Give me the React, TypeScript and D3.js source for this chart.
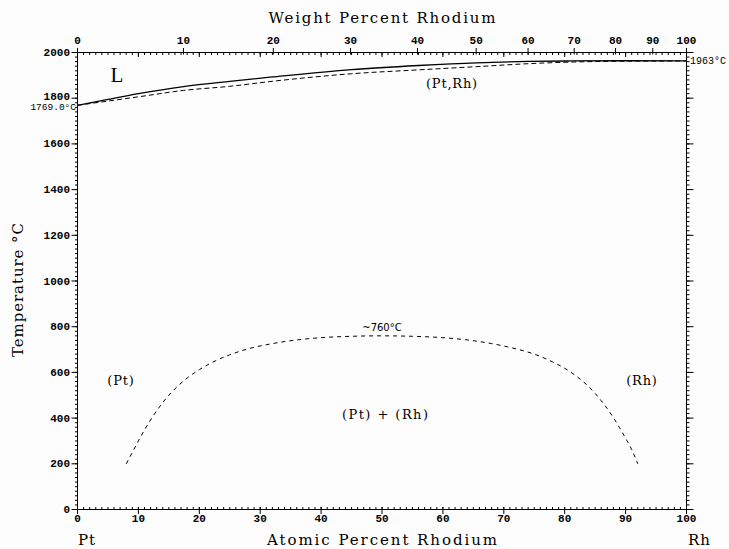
import React from "react";
import * as d3 from "d3";

// ---- data ----
const atTicks = [0, 10, 20, 30, 40, 50, 60, 70, 80, 90, 100];
const wtTicks = [0, 10, 20, 30, 40, 50, 60, 70, 80, 90, 100];
const tempTicks = [0, 200, 400, 600, 800, 1000, 1200, 1400, 1600, 1800, 2000];

const liquidusAt = [0, 5, 10, 17.4, 25, 32, 45, 56, 65.5, 74, 81, 90, 100];
const liquidusT = [1769, 1795, 1820, 1851, 1874, 1893, 1925, 1943, 1955, 1961, 1963, 1964, 1963];

const solidusAt = [0, 10, 17.4, 25, 32, 45, 56, 65.5, 74, 81, 90, 100];
const solidusT = [1769, 1806, 1834, 1852, 1874, 1907, 1924, 1938, 1951, 1958, 1962, 1963];

const gapAt = [8, 9, 10, 11, 12, 13, 14, 15, 16, 18, 20, 22, 25, 28, 32, 36, 40, 45, 50, 55, 60, 64, 68, 72, 75, 78, 80, 82, 84, 85, 86, 87, 88, 89, 90, 91, 92];
const gapT = [200, 250, 300, 348, 392, 432, 468, 500, 528, 575, 612, 642, 677, 703, 726, 742, 752, 758, 760, 758, 752, 742, 726, 703, 680, 646, 618, 582, 536, 508, 476, 441, 402, 358, 312, 262, 200];

const M_PT = 195.08;
const M_RH = 102.91;
const wt2at = (w: number) => {
  const a = w / M_RH;
  const b = (100 - w) / M_PT;
  return (a / (a + b)) * 100;
};

export default function App() {
  const x = d3.scaleLinear().domain([0, 100]).range([77.5, 686.5]);
  const y = d3.scaleLinear().domain([0, 2000]).range([509.5, 52.5]);

  const line = d3
    .line<[number, number]>()
    .x((d) => x(d[0]))
    .y((d) => y(d[1]))
    .curve(d3.curveMonotoneX);

  const liq = line(liquidusAt.map((v, i) => [v, liquidusT[i]]) as [number, number][]) || "";
  const sol = line(solidusAt.map((v, i) => [v, solidusT[i]]) as [number, number][]) || "";
  const gap = line(gapAt.map((v, i) => [v, gapT[i]]) as [number, number][]) || "";

  const minorAt = d3.range(0, 101, 1);
  const minorT = d3.range(0, 2001, 20);

  const tickFont = { fontFamily: "Liberation Mono", fontSize: 11, fontWeight: 700 } as const;
  const titleFont = { fontFamily: "DejaVu Serif", fontSize: 15 } as const;
  const labelFont = { fontFamily: "DejaVu Serif", fontSize: 13 } as const;

  const x0 = x(0), x1 = x(100), yT = y(2000), yB = y(0);

  return (
    <div style={{ position: "absolute", left: 0, top: 0 }}>
      <svg width={729} height={549} style={{ display: "block", background: "#fff" }}>
        <rect x={0} y={0} width={729} height={549} fill="#fdfdfd" />
        {/* frame */}
        <g stroke="#000" strokeWidth={1} fill="none">
          <line x1={x0} x2={x1} y1={yT} y2={yT} />
          <line x1={x0} x2={x1} y1={yB} y2={yB} />
          <line x1={x0} x2={x0} y1={yT} y2={yB} />
          <line x1={x1} x2={x1} y1={yT} y2={yB} />
        </g>

        {/* bottom axis */}
        <g stroke="#000" strokeWidth={1}>
          {minorAt.map((v) => (
            <line key={"bm" + v} x1={x(v)} x2={x(v)} y1={yB} y2={yB - 2.5} />
          ))}
          {atTicks.map((v) => (
            <line key={"bM" + v} x1={x(v)} x2={x(v)} y1={yB - 2.5} y2={yB + 4.5} />
          ))}
        </g>
        {atTicks.map((v) => (
          <text key={"bl" + v} x={x(v)} y={522} textAnchor="middle" {...tickFont}>
            {v}
          </text>
        ))}

        {/* top axis */}
        <g stroke="#000" strokeWidth={1}>
          {minorAt.map((v) => (
            <line key={"tm" + v} x1={x(v)} x2={x(v)} y1={yT} y2={yT + 2.5} />
          ))}
          {atTicks.map((v) => (
            <line key={"tA" + v} x1={x(v)} x2={x(v)} y1={yT} y2={yT + 4.5} />
          ))}
          {wtTicks.map((w) => (
            <line key={"tW" + w} x1={x(wt2at(w))} x2={x(wt2at(w))} y1={yT - 4.5} y2={yT + 2} />
          ))}
        </g>
        {wtTicks.map((w) => (
          <text key={"tl" + w} x={x(wt2at(w))} y={44} textAnchor="middle" {...tickFont}>
            {w}
          </text>
        ))}

        {/* left axis */}
        <g stroke="#000" strokeWidth={1}>
          {minorT.map((v) => (
            <line key={"lm" + v} x1={x0 - 2.5} x2={x0} y1={y(v)} y2={y(v)} />
          ))}
          {tempTicks.map((v) => (
            <line key={"lM" + v} x1={x0 - 6} x2={x0} y1={y(v)} y2={y(v)} />
          ))}
        </g>
        {tempTicks.map((v) => (
          <text key={"ll" + v} x={70} y={y(v) + (v === 1800 ? 1.5 : 3.5)} textAnchor="end" {...tickFont}>
            {v}
          </text>
        ))}

        {/* right axis */}
        <g stroke="#000" strokeWidth={1}>
          {minorT.map((v) => (
            <line key={"rm" + v} x1={x1} x2={x1 + 3} y1={y(v)} y2={y(v)} />
          ))}
          {tempTicks.map((v) => (
            <line key={"rM" + v} x1={x1} x2={x1 + 7} y1={y(v)} y2={y(v)} />
          ))}
        </g>

        {/* curves */}
        <path d={liq} fill="none" stroke="#000" strokeWidth={1.3} />
        <path d={sol} fill="none" stroke="#000" strokeWidth={1} strokeDasharray="5,3" />
        <path d={gap} fill="none" stroke="#000" strokeWidth={1} strokeDasharray="4,4" />

        {/* axis titles */}
        <text x={382} y={23} textAnchor="middle" textLength={227} lengthAdjust="spacing" {...titleFont}>
          Weight Percent Rhodium
        </text>
        <text x={382} y={545} textAnchor="middle" textLength={230} lengthAdjust="spacing" {...titleFont}>
          Atomic Percent Rhodium
        </text>
        <text
          transform="translate(23,290) rotate(-90)"
          textAnchor="middle"
          textLength={134}
          lengthAdjust="spacing"
          {...titleFont}
        >
          Temperature °C
        </text>
        <text x={78} y={545} fontFamily="DejaVu Serif" fontSize={15} letterSpacing={1}>
          Pt
        </text>
        <text x={688} y={545} fontFamily="DejaVu Serif" fontSize={15} letterSpacing={1}>
          Rh
        </text>

        {/* annotations */}
        <text x={76} y={110} textAnchor="end" fontFamily="Liberation Mono" fontSize={9.5}>
          1769.0°C
        </text>
        <text x={690} y={64} fontFamily="Liberation Mono" fontSize={10}>
          1963°C
        </text>
        <text x={382} y={331} textAnchor="middle" fontFamily="DejaVu Sans" fontSize={10}>
          ~760°C
        </text>
        <text x={117} y={82} textAnchor="middle" fontFamily="Liberation Serif" fontSize={21}>
          L
        </text>
        <text x={452} y={88} textAnchor="middle" letterSpacing={0.8} {...labelFont}>
          (Pt,Rh)
        </text>
        <text x={121} y={385} textAnchor="middle" letterSpacing={0.8} {...labelFont}>
          (Pt)
        </text>
        <text x={642} y={385} textAnchor="middle" letterSpacing={0.8} {...labelFont}>
          (Rh)
        </text>
        <text x={385} y={419} textAnchor="middle" textLength={86} lengthAdjust="spacing" {...labelFont}>
          (Pt) + (Rh)
        </text>
      </svg>
    </div>
  );
}
